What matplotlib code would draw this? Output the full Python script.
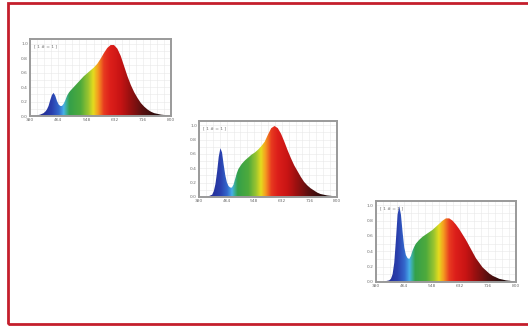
import numpy as np
import matplotlib
matplotlib.use("Agg")
import matplotlib.pyplot as plt
from matplotlib.colors import LinearSegmentedColormap
from matplotlib.patches import Rectangle

# wavelengths (nm) and relative spectral power of the three spectra
wl = [380, 390, 400, 410, 420, 425, 430, 435, 440, 445, 450, 455, 460, 465, 470,
      475, 480, 485, 490, 495, 500, 510, 520, 530, 540, 550, 560, 570, 580, 590,
      600, 610, 620, 630, 640, 650, 660, 670, 680, 690, 700, 710, 720, 730, 740,
      750, 760, 770, 780, 790, 800]

spec1 = [0.0, 0.0, 0.01, 0.02, 0.04, 0.06, 0.09, 0.14, 0.22, 0.29, 0.32, 0.28, 0.21, 0.16, 0.14,
         0.14, 0.17, 0.22, 0.28, 0.32, 0.35, 0.40, 0.45, 0.50, 0.55, 0.59, 0.63, 0.67, 0.72, 0.79,
         0.87, 0.94, 0.98, 0.98, 0.93, 0.83, 0.69, 0.55, 0.43, 0.33, 0.25, 0.18, 0.13, 0.09, 0.06,
         0.04, 0.03, 0.02, 0.015, 0.01, 0.005]

spec2 = [0.0, 0.0, 0.0, 0.01, 0.03, 0.08, 0.18, 0.35, 0.56, 0.68, 0.62, 0.45, 0.30, 0.20, 0.15,
         0.13, 0.13, 0.17, 0.25, 0.33, 0.39, 0.46, 0.51, 0.55, 0.59, 0.62, 0.66, 0.71, 0.77, 0.87,
         0.96, 0.99, 0.96, 0.88, 0.77, 0.65, 0.54, 0.44, 0.36, 0.28, 0.21, 0.16, 0.12, 0.09, 0.06,
         0.04, 0.03, 0.02, 0.015, 0.01, 0.005]

spec3 = [0.0, 0.0, 0.0, 0.01, 0.02, 0.04, 0.10, 0.25, 0.55, 0.88, 0.99, 0.88, 0.65, 0.45, 0.35,
         0.31, 0.30, 0.34, 0.41, 0.46, 0.50, 0.55, 0.59, 0.62, 0.65, 0.68, 0.72, 0.76, 0.80, 0.83,
         0.83, 0.80, 0.75, 0.69, 0.62, 0.55, 0.47, 0.39, 0.31, 0.25, 0.19, 0.15, 0.11, 0.08, 0.06,
         0.04, 0.03, 0.02, 0.015, 0.01, 0.005]

xticks = [380, 464, 548, 632, 716, 800]
yticks = [0.0, 0.2, 0.4, 0.6, 0.8, 1.0]
label = "[ 1 # = 1 ]"

# colour of each wavelength
stops = [(380, "#1a1248"), (420, "#24309a"), (445, "#2a40ae"), (465, "#3468cc"),
         (480, "#48b0ea"), (488, "#3cae9a"), (497, "#34a04a"), (530, "#4eaa3c"),
         (553, "#98c430"), (568, "#e4dc1e"), (582, "#f5a020"), (600, "#e83a20"),
         (620, "#dc1e1a"), (650, "#c81414"), (680, "#961010"), (715, "#5a1010"),
         (760, "#260c0c"), (800, "#100606")]
cmap = LinearSegmentedColormap.from_list(
    "spec", [((w - 380) / 420, c) for w, c in stops])

fig = plt.figure(figsize=(5.28, 3.27), dpi=100)
fig.patches.append(Rectangle((8 / 528, 3 / 327), 1.2, 321 / 327,
                             transform=fig.transFigure, fill=False,
                             edgecolor="#c41e2c", linewidth=2))

boxes = [[0.057, 0.645, 0.267, 0.235],
         [0.377, 0.398, 0.261, 0.232],
         [0.712, 0.138, 0.265, 0.248]]

for box, spec in zip(boxes, [spec1, spec2, spec3]):
    ax = fig.add_axes(box)
    ax.set_xlim(380, 800)
    ax.set_ylim(0, 1.06)
    grad = np.linspace(0, 1, 500).reshape(1, -1)
    im = ax.imshow(grad, cmap=cmap, aspect="auto", extent=[380, 800, 0, 1.06],
                   origin="lower", zorder=2)
    poly = ax.fill_between(wl, spec, 0, color="none", lw=0)
    im.set_clip_path(poly.get_paths()[0], transform=ax.transData)
    ax.set_xticks(xticks)
    ax.set_xticklabels([str(t) for t in xticks])
    ax.set_yticks(yticks)
    ax.set_yticklabels(["%.1f" % t for t in yticks])
    ax.set_xticks(np.arange(380, 801, 21), minor=True)
    ax.set_yticks(np.arange(0, 1.06, 0.1), minor=True)
    ax.grid(which="both", color="#e8e8e8", lw=0.4, zorder=0)
    ax.set_axisbelow(True)
    ax.tick_params(which="both", length=0, labelsize=3.2, labelcolor="#707070", pad=1.5)
    for s in ax.spines.values():
        s.set_color("#9a9a9a")
        s.set_linewidth(1.4)
    ax.text(0.03, 0.93, label, transform=ax.transAxes, fontsize=3.2,
            color="#707070", va="top", zorder=3)

fig.savefig("out.png", dpi=100)
